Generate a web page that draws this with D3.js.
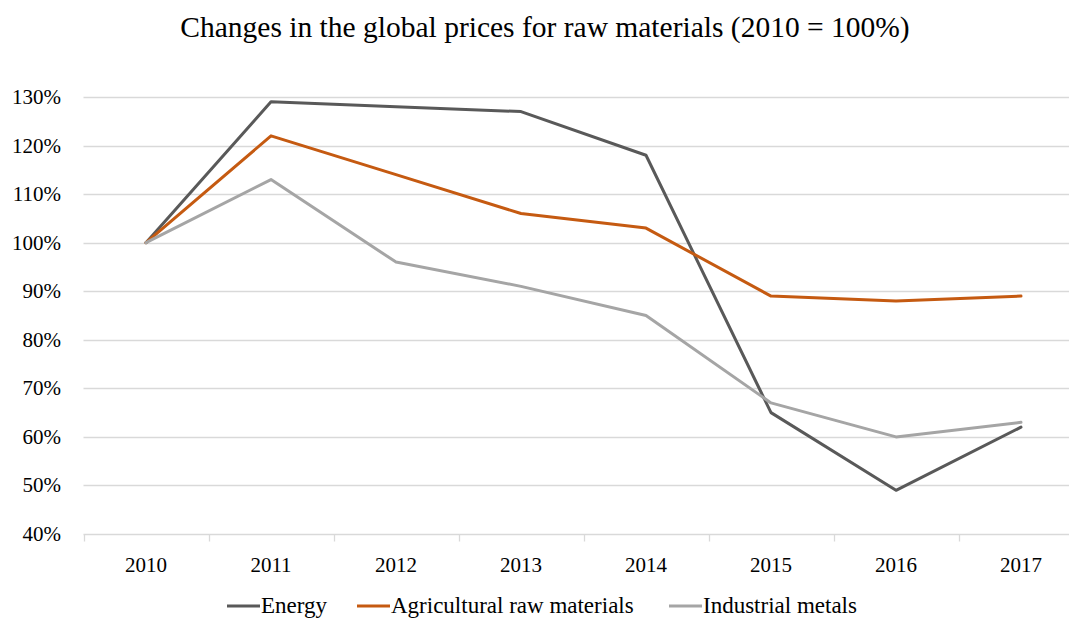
<!DOCTYPE html>
<html>
<head>
<meta charset="utf-8">
<script src="https://d3js.org/d3.v7.min.js"></script>
<style>
body { margin: 0; background: #fff; }
svg { display: block; font-family: "Palatino Linotype", Palatino, "Liberation Serif", serif; }
</style>
</head>
<body>
<svg width="1069" height="619"></svg>
<script>
// chart data
const years = ["2010", "2011", "2012", "2013", "2014", "2015", "2016", "2017"];
const energy = [100, 129, 128, 127, 118, 65, 49, 62];
const agricultural = [100, 122, 114, 106, 103, 89, 88, 89];
const metals = [100, 113, 96, 91, 85, 67, 60, 63];
const yTicks = [40, 50, 60, 70, 80, 90, 100, 110, 120, 130];
const seriesNames = ["Energy", "Agricultural raw materials", "Industrial metals"];
const seriesColors = ["#595959", "#c55a11", "#a5a5a5"];

const svg = d3.select("svg");
const plotLeft = 83.5, plotRight = 1083.5, plotTop = 97, plotBottom = 534;

const x = d3.scaleBand().domain(years).range([plotLeft, plotRight]);
const y = d3.scaleLinear().domain([40, 130]).range([plotBottom, plotTop]);

// title
svg.append("text")
  .attr("x", 545).attr("y", 37)
  .attr("text-anchor", "middle")
  .attr("font-size", 29.5)
  .attr("fill", "#000")
  .text("Changes in the global prices for raw materials (2010 = 100%)");

// gridlines
svg.append("g").selectAll("line")
  .data(yTicks)
  .join("line")
  .attr("x1", plotLeft).attr("x2", plotRight)
  .attr("y1", d => Math.round(y(d)) + 0.5)
  .attr("y2", d => Math.round(y(d)) + 0.5)
  .attr("stroke", "#d9d9d9")
  .attr("stroke-width", 1.3);

// y labels
svg.append("g").selectAll("text")
  .data(yTicks)
  .join("text")
  .attr("x", 61)
  .attr("y", d => y(d) + 7)
  .attr("text-anchor", "end")
  .attr("font-size", 21)
  .attr("fill", "#000")
  .text(d => d + "%");

// x axis: ticks sit between categories
const gx = svg.append("g").attr("transform", `translate(0,${Math.round(plotBottom) + 0.5})`);
gx.selectAll("line.tk")
  .data(years)
  .join("line")
  .attr("class", "tk")
  .attr("x1", d => Math.round(x(d)) + 0.5)
  .attr("x2", d => Math.round(x(d)) + 0.5)
  .attr("y1", 0).attr("y2", 7)
  .attr("stroke", "#d9d9d9")
  .attr("stroke-width", 1.3);
gx.selectAll("text")
  .data(years)
  .join("text")
  .attr("x", d => x(d) + x.bandwidth() / 2)
  .attr("y", 37.5)
  .attr("text-anchor", "middle")
  .attr("font-size", 21)
  .attr("fill", "#000")
  .text(d => d);

// lines
const line = d3.line()
  .x((d, i) => x(years[i]) + x.bandwidth() / 2)
  .y(d => y(d));

[energy, agricultural, metals].forEach((s, i) => {
  svg.append("path")
    .datum(s)
    .attr("d", line)
    .attr("fill", "none")
    .attr("stroke", seriesColors[i])
    .attr("stroke-width", 3)
    .attr("stroke-linejoin", "round")
    .attr("stroke-linecap", "round");
});

// legend (kept just inside the bottom edge)
const legendX = [227, 357, 669];
const lg = svg.append("g");
seriesNames.forEach((name, i) => {
  lg.append("line")
    .attr("x1", legendX[i]).attr("x2", legendX[i] + 33)
    .attr("y1", 606).attr("y2", 606)
    .attr("stroke", seriesColors[i])
    .attr("stroke-width", 3);
  lg.append("text")
    .attr("x", legendX[i] + 34)
    .attr("y", 613)
    .attr("font-size", 23)
    .attr("fill", "#000")
    .text(name);
});
</script>
</body>
</html>
